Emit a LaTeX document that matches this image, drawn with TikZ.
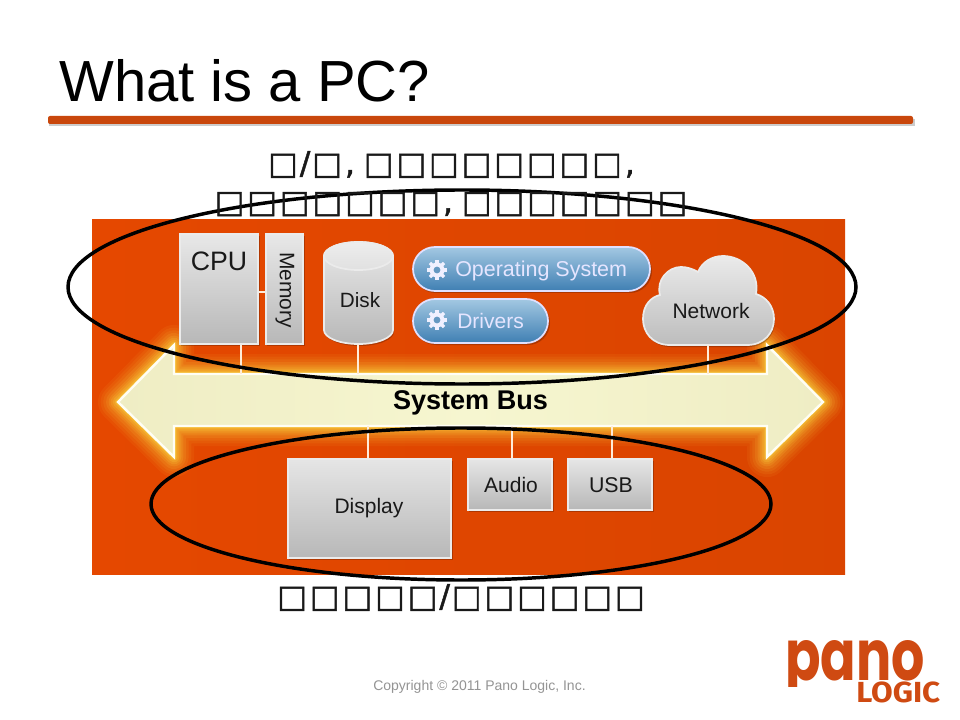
\documentclass[tikz,border=0pt]{standalone}
\usepackage{fontspec}
\setmainfont{Liberation Sans}
\newfontfamily\tofu[LetterSpace=9.6,FakeBold=1.5]{DejaVu Sans}
\newfontfamily\logofont{Fira Sans}
\newfontfamily\logofontb{Poppins}
\usetikzlibrary{calc,shapes.geometric}
\newcommand\myfs[1]{\fontsize{#1pt}{#1pt}\selectfont}
\definecolor{ruleor}{HTML}{C9470C}
\definecolor{bgor}{HTML}{E54800}
\definecolor{logoor}{HTML}{CF4A12}
\definecolor{creammid}{HTML}{F6F6D0}
\definecolor{creamend}{HTML}{EFEDC4}
\definecolor{glowc}{HTML}{FFE94A}
\definecolor{pilltop}{HTML}{A3C8E2}
\definecolor{pillbot}{HTML}{3F7FB3}
\def\u{0.75pt}
\tikzset{
  box/.style={draw=white!92!black,line width=1.3pt,top color=#1,bottom color=black!28,inner sep=0pt},
  box/.default=black!9,
  pill/.style={draw=white!88!blue,line width=1.3pt,top color=pilltop,bottom color=pillbot,rounded corners=16.5pt,inner sep=0pt},
  wire/.style={draw=white!85!orange,line width=1.1pt},
  ring/.style={draw=black,line width=2.6pt},
  lbl/.style={inner sep=0pt,text=black!90},
  tofutxt/.style={inner sep=0pt,text=black!90,font=\tofu\myfs{23.5}},
  shad/.style={fill=black,fill opacity=.22,draw=none},
}
\begin{document}
\begin{tikzpicture}[x=0.75pt,y=-0.75pt]
\useasboundingbox (0,0) rectangle (960,720);
\fill[white] (0,0) rectangle (960,720);

% title and rule
\node[anchor=base west,inner sep=0pt,font=\myfs{43.5}] (title) at (59,102) {What is a PC?};
\fill[black,fill opacity=.2] (49,119) rectangle (915,126);
\fill[ruleor,rounded corners=1.5pt] (48,116) rectangle (913,124);

% orange panel
\fill[left color=bgor,right color=bgor!95!black] (92,220) rectangle (845,574);

% glow of the bus arrow
\begin{scope}
\clip (92,220) rectangle (845,574);
\def\busp{(118,402) -- (174,345) -- (174,374) -- (767,374) -- (767,345) -- (823,402) -- (767,457) -- (767,426) -- (174,426) -- (174,457) -- cycle}
\foreach \w/\o in {30/.06,26/.07,22/.08,18/.10,14/.12,11/.14,8/.17,5/.2,3/.25}{
  \draw[glowc,line width=\w pt,opacity=\o,line join=round] \busp;
}
\path[left color=creamend,right color=creamend,middle color=creammid] \busp;
\draw[white!96!yellow,line width=1.8pt,line join=miter] \busp;
\end{scope}
\coordinate (bustop) at (470,374);
\coordinate (busbot) at (470,426);
\node[inner sep=0pt,font=\bfseries\myfs{20.3}] (bus) at (470.5,403) {System Bus};

% connector anchors on the bus
\coordinate (cpub) at (241,374);
\coordinate (diskb) at (358,374);
\coordinate (netb) at (708,374);
\coordinate (dispb) at (368,426);
\coordinate (audb) at (512,426);
\coordinate (usbb) at (612,426);

% CPU, memory
\fill[shad] (181,236) rectangle (260,346);
\fill[shad] (267,236) rectangle (305,346);
\node[box,minimum width=78*\u,minimum height=110*\u] (cpu) at (219,289) {};
\node[box,minimum width=37*\u,minimum height=110*\u] (mem) at (284.5,289) {};
\node[lbl,font=\myfs{20}] (cpulbl) at (219,261) {CPU};
\node[lbl,font=\myfs{15.75},rotate=-90] (memlbl) at (285,290) {Memory};
\draw[wire] ($(cpu.east)+(0,-3*\u)$) -- ($(mem.west)+(0,-3*\u)$);
\draw[wire] (cpub |- cpu.south) -- (cpub);

% disk
\node[minimum width=69*\u,minimum height=102*\u,inner sep=0pt] (disk) at (358.5,293) {};
\def\diskp{(324,256) .. controls (324,248.3) and (339.4,242) .. (358.5,242) .. controls (377.6,242) and (393,248.3) .. (393,256) -- (393,330) .. controls (393,337.7) and (377.6,344) .. (358.5,344) .. controls (339.4,344) and (324,337.7) .. (324,330) -- cycle}
\fill[shad,shift={(1,2)}] \diskp;
\path[box] \diskp;
\path[draw=white!92!black,line width=1.3pt,top color=black!7,bottom color=black!12] (324,256) .. controls (324,248.3) and (339.4,242) .. (358.5,242) .. controls (377.6,242) and (393,248.3) .. (393,256) .. controls (393,263.7) and (377.6,270) .. (358.5,270) .. controls (339.4,270) and (324,263.7) .. (324,256) -- cycle;
\node[lbl,font=\myfs{15.5}] (disklbl) at (360,300) {Disk};
\draw[wire] (diskb |- disk.south) -- (diskb);

% software pills
\fill[shad,rounded corners=16.5pt] (414,249) rectangle (652,293);
\fill[shad,rounded corners=16.5pt] (414,301) rectangle (550,345);
\node[pill,minimum width=237*\u,minimum height=44*\u] (os) at (531.5,269) {};
\node[pill,minimum width=135*\u,minimum height=44*\u] (drv) at (480.5,321) {};
\node[inner sep=0pt,text=white!90!blue,font=\myfs{16.1},anchor=west] (oslbl) at (455,271) {Operating System};
\node[inner sep=0pt,text=white!90!blue,font=\myfs{15.75},anchor=west] (drvlbl) at (457,321) {Drivers};
\foreach \c in {(437,270),(437,320)}{
  \foreach \a in {0,45,...,315}{
    \draw[white!94!blue,line width=2.4pt] \c ++(\a:5) -- ++(\a:5);
  }
  \fill[white!94!blue] \c circle[radius=7.5];
  \fill[pillbot!80!white] \c circle[radius=3.4];
}

% network cloud
\node[minimum width=131*\u,minimum height=89*\u,inner sep=0pt] (net) at (708.5,300.5) {};
\def\cloudp{(670,345) .. controls (652,345) and (643,332) .. (643,319) .. controls (643,305) and (651,297) .. (660,295) .. controls (656,280) and (668,267) .. (681,267) .. controls (687,267) and (693,269) .. (698,272) .. controls (702,262) and (712,256) .. (723,256) .. controls (742,256) and (760,272) .. (756,294) .. controls (766,297) and (774,306) .. (774,319) .. controls (774,333) and (764,345) .. (747,345) -- cycle}
\fill[shad,shift={(1,2)}] \cloudp;
\path[draw=white!92!black,line width=1.3pt,top color=black!8,bottom color=black!26] \cloudp;
\node[lbl,font=\myfs{15.75}] (netlbl) at (711,311) {Network};
\draw[wire] (netb |- net.south) -- (netb);

% bottom devices
\fill[shad] (289,461) rectangle (453,560);
\fill[shad] (469,461) rectangle (554,512);
\fill[shad] (569,461) rectangle (654,512);
\node[box=black!10,minimum width=163*\u,minimum height=99*\u] (disp) at (369.5,508.5) {};
\node[box=black!10,minimum width=84*\u,minimum height=51*\u] (aud) at (510,484.5) {};
\node[box=black!10,minimum width=84*\u,minimum height=51*\u] (usb) at (610,484.5) {};
\node[lbl,font=\myfs{15.75}] (displbl) at (369,508) {Display};
\node[lbl,font=\myfs{15.75}] (audlbl) at (511,485) {Audio};
\node[lbl,font=\myfs{16}] (usblbl) at (611,485) {USB};
\draw[wire] (dispb) -- (dispb |- disp.north);
\draw[wire] (audb) -- (audb |- aud.north);
\draw[wire] (usbb) -- (usbb |- usb.north);

% ellipses
\node[ring,ellipse,minimum width=788*\u,minimum height=194*\u,inner sep=0pt] (hi) at (462,287) {};
\node[ring,ellipse,minimum width=620*\u,minimum height=152*\u,inner sep=0pt] (lo) at (461,504) {};

% missing-glyph text
\node[tofutxt,anchor=base] (t1) at (451.5,174) {□\kern1.5pt/\kern1.5pt□,\hspace{-3pt} □□□□□□□□,};
\node[tofutxt,anchor=base] (t2) at (451,212.3) {□□□□□□□,\hspace{-3pt} □□□□□□□};
\node[tofutxt,anchor=base] (t3) at (461,607) {□□□□□\kern1.5pt/\kern1.5pt□□□□□□};

% footer
\node[inner sep=0pt,text=black!42,font=\myfs{10.5}] (copy) at (479.5,687) {Copyright © 2011 Pano Logic, Inc.};

% logo
\begin{scope}
\clip (780,630) rectangle (950,686);
\node[inner sep=0pt,anchor=base west,text=logoor,font=\logofontb\bfseries\myfs{53}] (pano) at (785,680) {\scalebox{.74}[1]{pano}};
\end{scope}
\node[inner sep=0pt,anchor=base west,text=logoor,font=\logofont\bfseries\myfs{21.8}] (logic) at (856,702) {\scalebox{1.08}[1]{LOGIC}};
\end{tikzpicture}
\end{document}
